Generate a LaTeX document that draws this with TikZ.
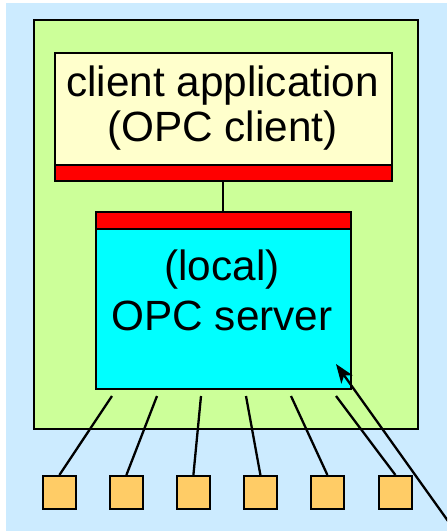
\documentclass[tikz,border=0pt]{standalone}
\usepackage{fontspec}
\setmainfont{Liberation Sans}
\usetikzlibrary{arrows.meta}
\definecolor{skyblue}{RGB}{204,235,255}
\definecolor{palegreen}{RGB}{204,255,153}
\definecolor{paleyellow}{RGB}{255,255,204}
\definecolor{ifacered}{RGB}{255,0,0}
\definecolor{srvcyan}{RGB}{0,255,255}
\definecolor{devorange}{RGB}{255,204,102}
\tikzset{
  box/.style={draw=black, line width=1.8pt, inner sep=0pt, anchor=north west},
  label text/.style={font=\fontsize{42.3}{44}\selectfont, anchor=base, inner sep=0pt},
  device/.style={box, fill=devorange, minimum width=33pt, minimum height=33pt},
  wire/.style={line width=2.3pt},
}
\begin{document}
\begin{tikzpicture}[x=1pt, y=-1pt]
  \useasboundingbox (0,0) rectangle (447,532);
  \clip (0,0) rectangle (447,532);
  % backdrop
  \fill[white] (0,0) rectangle (447,532);
  \fill[skyblue] (6,3) rectangle (447,531);
  % host computer
  \node[box, fill=palegreen, minimum width=384pt, minimum height=409pt] (host) at (33,19) {};
  % client application with its interface bar
  \node[box, fill=paleyellow, minimum width=337pt, minimum height=128pt] (client) at (54,52) {};
  \node[box, fill=ifacered, minimum width=337pt, minimum height=16pt] (clientbar) at (54,164) {};
  \node[label text] (ct1) at (222.5,97) {client application};
  \node[label text] (ct2) at (222.5,141) {(OPC client)};
  % local server with its interface bar
  \node[box, fill=srvcyan, minimum width=255pt, minimum height=177pt] (server) at (95,211) {};
  \node[box, fill=ifacered, minimum width=255pt, minimum height=17pt] (serverbar) at (95,211) {};
  \node[label text] (st1) at (222,280) {(local)};
  \node[label text] (st2) at (222,330) {OPC server};
  % link between client and server
  \draw[line width=1.9pt] (clientbar.south) -- (serverbar.north);
  % field devices
  \foreach \i/\x in {1/42,2/109,3/176,4/243,5/310,6/378}{
    \node[device] (dev\i) at (\x,475) {};
  }
  \foreach \i/\x in {1/112,2/157,3/201,4/246,5/291,6/336}{
    \coordinate (w\i) at (\x,396);
    \draw[wire] (w\i) -- (dev\i.north);
  }
  % pointer into the server
  \coordinate (ptail) at (458,535);
  \coordinate (ptip) at (336,364);
  \draw[wire, -{Stealth[length=19pt, width=14pt, inset=5pt]}] (ptail) -- (ptip);
\end{tikzpicture}
\end{document}
